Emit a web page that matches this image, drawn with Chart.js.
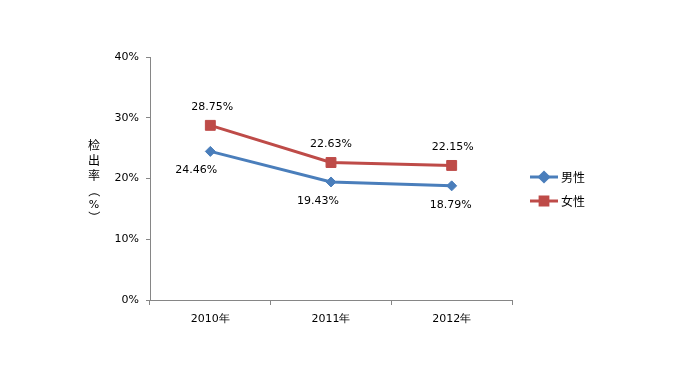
<!DOCTYPE html>
<html>
<head>
<meta charset="utf-8">
<script src="https://cdn.jsdelivr.net/npm/chart.js@4"></script>
<style>
  html, body { margin: 0; padding: 0; background: #fff; }
  #wrap { width: 677px; height: 378px; }
</style>
</head>
<body>
<div id="wrap"><canvas id="chart" width="677" height="378"></canvas></div>
<script>
// 数据
const years = ['2010年', '2011年', '2012年'];
const maleRates = [24.46, 19.43, 18.79];
const femaleRates = [28.75, 22.63, 22.15];
const seriesNames = ['男性', '女性'];
const yTitle = ['检', '出', '率', '（', '%', '）'];

const blue = '#4A7EBB';
const red = '#BE4B48';
const numFont = '11px "DejaVu Sans"';
const cjkFont = '12px "Noto Sans CJK SC"';

// 数据标签 + 纵轴标题 + 图例
const extrasPlugin = {
    id: 'extras',
    afterDatasetsDraw(chart) {
        const ctx = chart.ctx;
        ctx.save();
        ctx.fillStyle = '#000';
        ctx.font = numFont;
        ctx.textAlign = 'center';
        ctx.textBaseline = 'middle';
        const shifts = [
            { dx: [-14, -13, -1], dy: 19 },
            { dx: [2, 0, 1], dy: -18 }
        ];
        chart.data.datasets.forEach((ds, i) => {
            const meta = chart.getDatasetMeta(i);
            meta.data.forEach((pt, j) => {
                ctx.fillText(ds.data[j].toFixed(2) + '%', pt.x + shifts[i].dx[j], pt.y + shifts[i].dy);
            });
        });

        // 纵轴标题（竖排）
        ctx.font = cjkFont;
        const ys = [145, 160, 175, 191, 205, 217];
        yTitle.forEach((ch, k) => {
            if (ch === '（' || ch === '）') {
                ctx.save();
                ctx.translate(94, ys[k]);
                ctx.rotate(Math.PI / 2);
                ctx.fillText(ch, 0, 0);
                ctx.restore();
            } else if (ch === '%') {
                ctx.font = numFont;
                ctx.fillText(ch, 94, ys[k]);
                ctx.font = cjkFont;
            } else {
                ctx.fillText(ch, 94, ys[k]);
            }
        });

        // 图例
        const items = [
            { color: blue, style: 'rectRot', r: 4.5, y: 177 },
            { color: red, style: 'rect', r: 5.5, y: 201 }
        ];
        items.forEach((it, k) => {
            ctx.strokeStyle = it.color;
            ctx.lineWidth = 3;
            ctx.beginPath();
            ctx.moveTo(530, it.y);
            ctx.lineTo(558, it.y);
            ctx.stroke();
            ctx.fillStyle = it.color;
            Chart.helpers.drawPoint(ctx, { pointStyle: it.style, radius: it.r, borderWidth: 1 }, 544, it.y);
            ctx.fillStyle = '#000';
            ctx.textAlign = 'left';
            ctx.fillText(seriesNames[k], 561, it.y);
        });
        ctx.restore();
    }
};

new Chart(document.getElementById('chart').getContext('2d'), {
    type: 'line',
    data: {
        labels: years,
        datasets: [{
            label: seriesNames[0],
            data: maleRates,
            borderColor: blue,
            backgroundColor: blue,
            borderWidth: 3,
            pointStyle: 'rectRot',
            pointRadius: 5,
            pointBorderWidth: 1,
            tension: 0
        }, {
            label: seriesNames[1],
            data: femaleRates,
            borderColor: red,
            backgroundColor: red,
            borderWidth: 3,
            pointStyle: 'rect',
            pointRadius: 7,
            pointBorderWidth: 1,
            tension: 0
        }]
    },
    options: {
        responsive: false,
        animation: false,
        layout: { padding: { top: 57, right: 165, bottom: 0, left: 0 } },
        plugins: {
            legend: { display: false },
            tooltip: { enabled: false }
        },
        scales: {
            x: {
                offset: true,
                grid: { offset: true, drawOnChartArea: false, tickLength: 5, color: '#868686' },
                border: { color: '#868686' },
                ticks: { color: '#000', font: { family: 'DejaVu Sans', size: 11 }, padding: 8 },
                afterFit(scale) { scale.height = 78; }
            },
            y: {
                min: 0,
                max: 40,
                ticks: {
                    stepSize: 10,
                    color: '#000',
                    font: { family: 'DejaVu Sans', size: 11 },
                    padding: 7,
                    callback: v => v + '%'
                },
                grid: { drawOnChartArea: false, tickLength: 4, color: '#868686' },
                border: { color: '#868686' },
                afterFit(scale) { scale.width = 150; }
            }
        }
    },
    plugins: [extrasPlugin]
});
</script>
</body>
</html>
